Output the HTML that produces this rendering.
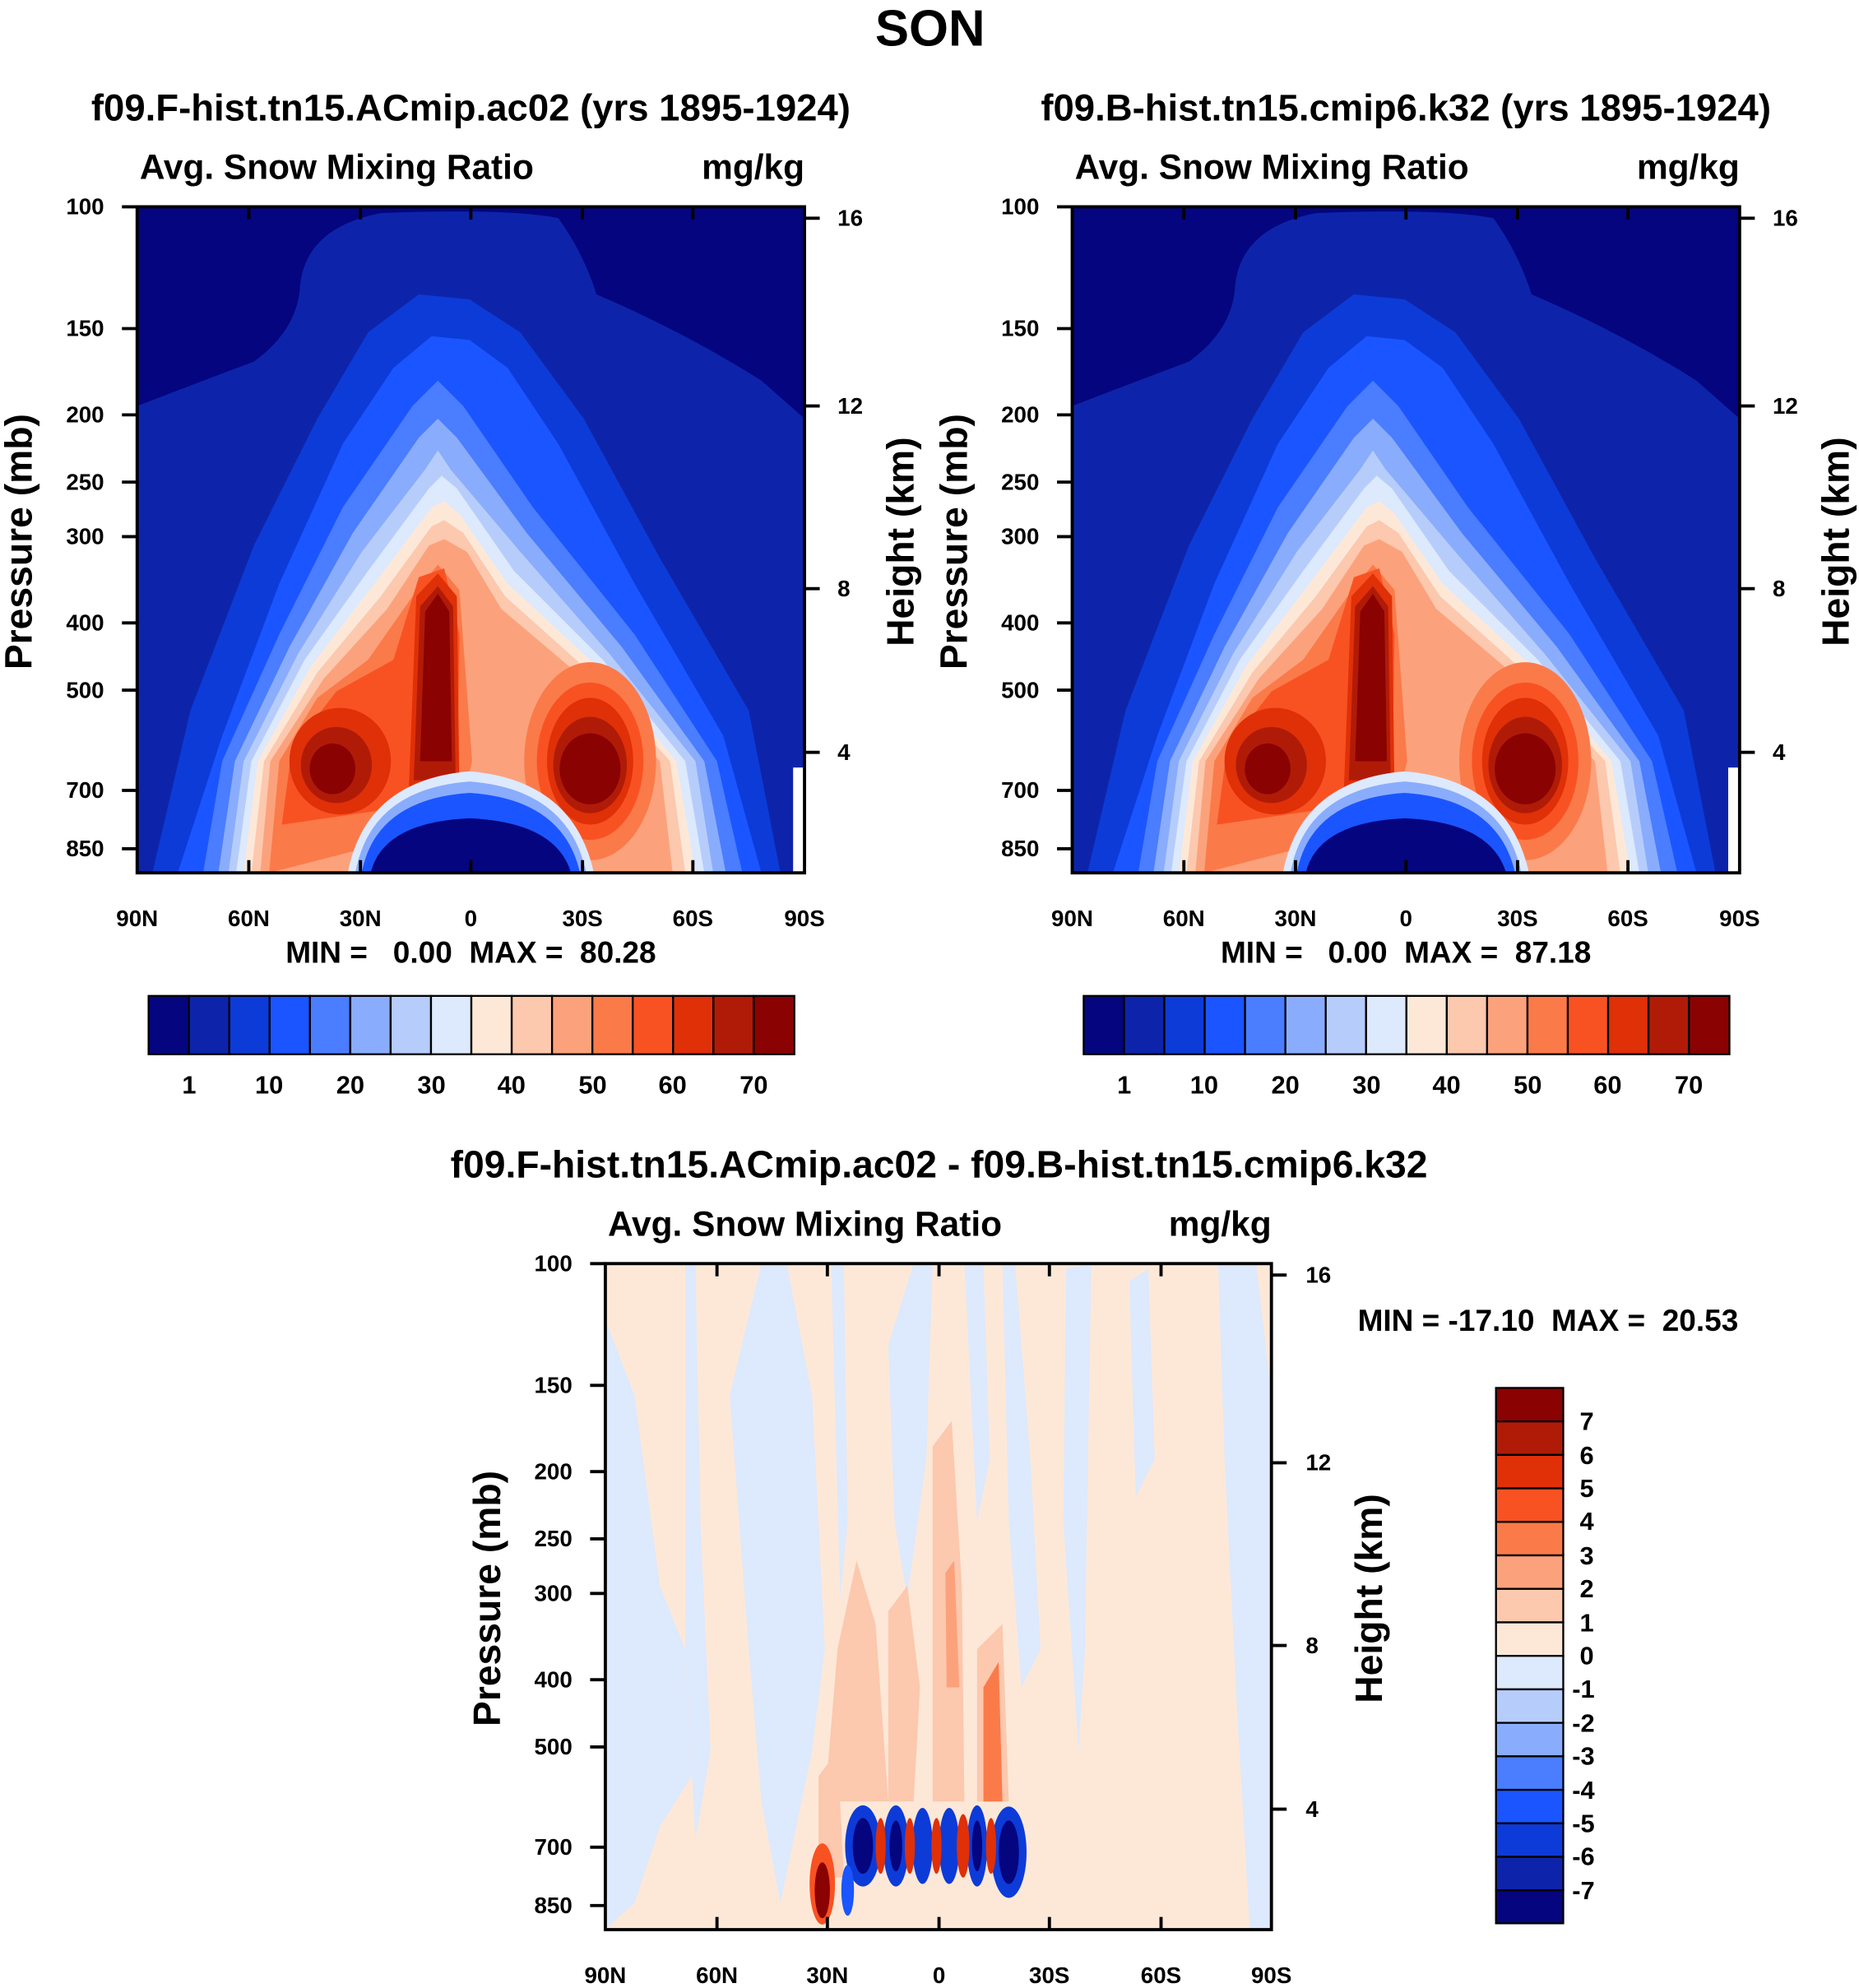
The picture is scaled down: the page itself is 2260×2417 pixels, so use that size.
<!DOCTYPE html>
<html><head><meta charset="utf-8"><style>
html,body{margin:0;padding:0;background:#fff}
svg{display:block}
text{font-family:"Liberation Sans",sans-serif;font-weight:bold;fill:#000}
</style></head><body>
<svg width="2260" height="2417" viewBox="0 0 1465 1567" xmlns="http://www.w3.org/2000/svg">
<defs>
<clipPath id="cp"><rect x="108" y="163" width="526" height="525"/></clipPath>
<g id="field">
<rect x="108" y="163" width="526" height="525" fill="#05057f"/>
<path fill="#0d24aa" d="M108,320 Q160,300 200,285 Q232,262 236,230 Q238,180 300,168 Q400,164 440,172 Q460,200 470,232 Q540,262 600,300 L634,330 L634,688 L108,688Z"/>
<polygon fill="#0d3bd8" points="120,688 150,560 200,430 250,330 290,262 330,232 370,236 410,262 460,330 520,440 590,560 615,688"/>
<polygon fill="#1a55ff" points="140,688 175,580 220,460 270,350 310,290 340,265 370,268 400,290 440,350 500,460 570,580 600,688"/>
<polygon fill="#4a7dff" points="160,688 175,600 220,500 270,400 325,320 345,300 365,320 420,400 500,500 565,600 585,688"/>
<polygon fill="#8aacfc" points="172,688 185,600 228,510 278,420 330,345 345,330 360,345 415,420 490,510 555,600 572,688"/>
<polygon fill="#b6cdfc" points="180,688 192,600 235,515 285,435 335,370 345,355 355,370 410,435 480,515 548,600 562,688"/>
<polygon fill="#dde9fc" points="186,688 198,600 240,520 290,450 338,385 348,375 360,385 405,450 475,520 540,600 555,688"/>
<polygon fill="#fde8d8" points="192,688 203,600 245,525 295,460 340,400 350,395 362,405 400,460 470,525 533,600 548,688"/>
<polygon fill="#fcc8ae" points="198,688 208,600 250,530 300,470 340,415 350,410 365,420 398,470 465,530 528,600 540,688"/>
<polygon fill="#fba27c" points="205,688 213,600 255,535 305,480 338,430 350,425 368,435 395,480 460,535 520,600 530,688"/>
<polygon fill="#fb7a4a" points="212,688 220,600 250,550 290,520 325,470 345,445 362,465 372,600 360,650"/>
<ellipse fill="#fb7a4a" cx="465" cy="600" rx="52" ry="78"/>
<polygon fill="#f95222" points="222,650 230,590 265,545 310,520 330,455 350,448 362,500 360,630"/>
<ellipse fill="#f95222" cx="465" cy="600" rx="42" ry="62"/>
<ellipse fill="#df3008" cx="268" cy="600" rx="40" ry="42"/>
<polygon fill="#df3008" points="322,625 328,470 345,452 360,470 362,625"/>
<ellipse fill="#df3008" cx="465" cy="600" rx="34" ry="50"/>
<ellipse fill="#b01b08" cx="265" cy="603" rx="28" ry="30"/>
<polygon fill="#b01b08" points="326,615 331,478 345,462 357,478 359,615"/>
<ellipse fill="#b01b08" cx="465" cy="603" rx="29" ry="38"/>
<ellipse fill="#8a0202" cx="262" cy="606" rx="18" ry="20"/>
<polygon fill="#8a0202" points="331,600 335,482 345,468 354,482 356,600"/>
<ellipse fill="#8a0202" cx="465" cy="606" rx="24" ry="28"/>
<path fill="#dde9fc" d="M274,688 Q288,615 370,608 Q452,615 468,688Z"/>
<path fill="#8aacfc" d="M280,688 Q292,622 370,616 Q448,622 462,688Z"/>
<path fill="#1a55ff" d="M285,688 Q296,630 370,625 Q444,630 457,688Z"/>
<path fill="#05057f" d="M292,688 Q302,648 370,645 Q438,648 450,688Z"/>
<rect x="625" y="605" width="9" height="83" fill="#fff"/>
</g>
</defs>

<text x="733" y="36" font-size="40" text-anchor="middle">SON</text>

<text x="371" y="95" font-size="29.5" text-anchor="middle">f09.F-hist.tn15.ACmip.ac02 (yrs 1895-1924)</text>
<text x="110" y="141" font-size="27.5">Avg. Snow Mixing Ratio</text>
<text x="634" y="141" font-size="27.5" text-anchor="end">mg/kg</text>
<g clip-path="url(#cp)"><use href="#field"/></g>
<text x="1108" y="95" font-size="29.5" text-anchor="middle">f09.B-hist.tn15.cmip6.k32 (yrs 1895-1924)</text>
<text x="847" y="141" font-size="27.5">Avg. Snow Mixing Ratio</text>
<text x="1371" y="141" font-size="27.5" text-anchor="end">mg/kg</text>
<g transform="translate(737,0)"><g clip-path="url(#cp)"><use href="#field"/></g></g>

<g id="axes" fill="none" stroke="#000" stroke-width="2.5">
<rect x="108" y="163" width="526" height="525"/>
<path d="M108,163h-12M108,259h-12M108,327h-12M108,380h-12M108,423h-12M108,491h-12M108,544h-12M108,623h-12M108,669h-12
M634,172h12M634,320h12M634,464h12M634,593h12
M196,163v10M284,163v10M371,163v10M459,163v10M546,163v10
M196,688v-10M284,688v-10M371,688v-10M459,688v-10M546,688v-10"/>
</g>
<use href="#axes" transform="translate(737,0)"/>
<g id="labs" font-size="18">
<text x="82" y="169" text-anchor="end">100</text>
<text x="82" y="265" text-anchor="end">150</text>
<text x="82" y="333" text-anchor="end">200</text>
<text x="82" y="386" text-anchor="end">250</text>
<text x="82" y="429" text-anchor="end">300</text>
<text x="82" y="497" text-anchor="end">400</text>
<text x="82" y="550" text-anchor="end">500</text>
<text x="82" y="629" text-anchor="end">700</text>
<text x="82" y="675" text-anchor="end">850</text>
<text x="660" y="178">16</text>
<text x="660" y="326">12</text>
<text x="660" y="470">8</text>
<text x="660" y="599">4</text>
<text x="108" y="730" text-anchor="middle">90N</text>
<text x="196" y="730" text-anchor="middle">60N</text>
<text x="284" y="730" text-anchor="middle">30N</text>
<text x="371" y="730" text-anchor="middle">0</text>
<text x="459" y="730" text-anchor="middle">30S</text>
<text x="546" y="730" text-anchor="middle">60S</text>
<text x="634" y="730" text-anchor="middle">90S</text>
<text transform="translate(25,427) rotate(-90)" font-size="30" text-anchor="middle">Pressure (mb)</text>
<text transform="translate(720,427) rotate(-90)" font-size="30" text-anchor="middle">Height (km)</text>
</g>
<use href="#labs" transform="translate(737,0)"/>
<text x="371" y="759" font-size="24" text-anchor="middle" xml:space="preserve">MIN =   0.00  MAX =  80.28</text>
<text x="1108" y="759" font-size="24" text-anchor="middle" xml:space="preserve">MIN =   0.00  MAX =  87.18</text>

<g id="hcb" stroke="#000" stroke-width="1.5">
<rect x="117" y="785" width="31.8" height="46" fill="#05057f"/>
<rect x="148.8" y="785" width="31.8" height="46" fill="#0d24aa"/>
<rect x="180.6" y="785" width="31.8" height="46" fill="#0d3bd8"/>
<rect x="212.4" y="785" width="31.8" height="46" fill="#1a55ff"/>
<rect x="244.2" y="785" width="31.8" height="46" fill="#4a7dff"/>
<rect x="276" y="785" width="31.8" height="46" fill="#8aacfc"/>
<rect x="307.8" y="785" width="31.8" height="46" fill="#b6cdfc"/>
<rect x="339.6" y="785" width="31.8" height="46" fill="#dde9fc"/>
<rect x="371.4" y="785" width="31.8" height="46" fill="#fde8d8"/>
<rect x="403.2" y="785" width="31.8" height="46" fill="#fcc8ae"/>
<rect x="435" y="785" width="31.8" height="46" fill="#fba27c"/>
<rect x="466.8" y="785" width="31.8" height="46" fill="#fb7a4a"/>
<rect x="498.6" y="785" width="31.8" height="46" fill="#f95222"/>
<rect x="530.4" y="785" width="31.8" height="46" fill="#df3008"/>
<rect x="562.2" y="785" width="31.8" height="46" fill="#b01b08"/>
<rect x="594" y="785" width="32" height="46" fill="#8a0202"/>
</g>
<g id="hcbl" font-size="20" text-anchor="middle">
<text x="149" y="862">1</text><text x="212" y="862">10</text><text x="276" y="862">20</text><text x="340" y="862">30</text>
<text x="403" y="862">40</text><text x="467" y="862">50</text><text x="530" y="862">60</text><text x="594" y="862">70</text>
</g>
<use href="#hcb" transform="translate(737,0)"/>
<use href="#hcbl" transform="translate(737,0)"/>

<text x="740" y="928" font-size="30" text-anchor="middle">f09.F-hist.tn15.ACmip.ac02 - f09.B-hist.tn15.cmip6.k32</text>
<text x="479" y="974" font-size="27.5">Avg. Snow Mixing Ratio</text>
<text x="1002" y="974" font-size="27.5" text-anchor="end">mg/kg</text>
<clipPath id="cb"><rect x="477" y="996" width="525" height="525"/></clipPath>
<g clip-path="url(#cb)">
<rect x="477" y="996" width="525" height="525" fill="#fde8d8"/>
<g fill="#dde9fc">
<polygon points="477,1040 500,1100 520,1250 540,1300 545,1400 520,1440 500,1500 477,1521"/>
<polygon points="540,996 548,996 552,1200 560,1380 548,1450 540,1300"/>
<polygon points="575,1100 600,996 620,996 640,1100 650,1300 640,1380 615,1500 600,1420 590,1300"/>
<polygon points="655,996 665,996 668,1200 662,1260"/>
<polygon points="700,1060 720,996 735,996 730,1150 715,1260 705,1200"/>
<polygon points="760,996 775,996 780,1150 770,1200"/>
<polygon points="790,996 800,996 812,1150 820,1300 805,1330 795,1200"/>
<polygon points="840,1000 860,996 855,1300 850,1380 838,1200"/>
<polygon points="890,1010 905,1000 910,1150 895,1180"/>
<polygon points="960,996 990,996 1002,1100 1002,1521 985,1521 975,1350 965,1150"/>
</g>
<g fill="#fcc8ae">
<polygon points="660,1300 675,1230 690,1280 700,1420 650,1420"/>
<polygon points="700,1270 715,1250 725,1330 720,1420 700,1420"/>
<polygon points="735,1140 750,1120 758,1250 760,1420 735,1420"/>
<polygon points="770,1300 790,1280 795,1420 770,1420"/>
<polygon points="645,1400 660,1380 665,1480 645,1480"/>
</g>
<polygon fill="#fb7a4a" points="775,1330 787,1310 790,1420 775,1420"/>
<polygon fill="#fba27c" points="745,1240 752,1230 756,1330 746,1330"/>
<g fill="#0d3bd8">
<ellipse cx="680" cy="1455" rx="14" ry="32"/><ellipse cx="706" cy="1455" rx="10" ry="32"/>
<ellipse cx="727" cy="1455" rx="8" ry="30"/><ellipse cx="748" cy="1455" rx="8" ry="30"/>
<ellipse cx="770" cy="1455" rx="8" ry="32"/><ellipse cx="795" cy="1460" rx="14" ry="36"/>
</g>
<g fill="#05057f">
<ellipse cx="680" cy="1455" rx="8" ry="22"/><ellipse cx="706" cy="1455" rx="5" ry="20"/>
<ellipse cx="795" cy="1460" rx="8" ry="25"/><ellipse cx="770" cy="1455" rx="4" ry="20"/>
</g>
<g fill="#df3008">
<ellipse cx="694" cy="1455" rx="4" ry="22"/><ellipse cx="717" cy="1455" rx="4" ry="22"/>
<ellipse cx="738" cy="1455" rx="4" ry="22"/><ellipse cx="759" cy="1455" rx="5" ry="25"/>
<ellipse cx="781" cy="1455" rx="4" ry="22"/>
</g>
<ellipse cx="648" cy="1485" rx="10" ry="32" fill="#f95222"/>
<ellipse cx="648" cy="1490" rx="6" ry="22" fill="#8a0202"/>
<ellipse cx="668" cy="1490" rx="5" ry="20" fill="#1a55ff"/>
</g>
<g fill="none" stroke="#000" stroke-width="2.5">
<rect x="477" y="996" width="525" height="525"/>
<path d="M477,996h-12M477,1092h-12M477,1160h-12M477,1213h-12M477,1256h-12M477,1324h-12M477,1377h-12M477,1456h-12M477,1502h-12
M1002,1005h12M1002,1153h12M1002,1297h12M1002,1426h12
M565,996v10M652,996v10M740,996v10M827,996v10M915,996v10
M565,1521v-10M652,1521v-10M740,1521v-10M827,1521v-10M915,1521v-10"/>
</g>
<g font-size="18">
<text x="451" y="1002" text-anchor="end">100</text>
<text x="451" y="1098" text-anchor="end">150</text>
<text x="451" y="1166" text-anchor="end">200</text>
<text x="451" y="1219" text-anchor="end">250</text>
<text x="451" y="1262" text-anchor="end">300</text>
<text x="451" y="1330" text-anchor="end">400</text>
<text x="451" y="1383" text-anchor="end">500</text>
<text x="451" y="1462" text-anchor="end">700</text>
<text x="451" y="1508" text-anchor="end">850</text>
<text x="1029" y="1011">16</text>
<text x="1029" y="1159">12</text>
<text x="1029" y="1303">8</text>
<text x="1029" y="1432">4</text>
<text x="477" y="1563" text-anchor="middle">90N</text>
<text x="565" y="1563" text-anchor="middle">60N</text>
<text x="652" y="1563" text-anchor="middle">30N</text>
<text x="740" y="1563" text-anchor="middle">0</text>
<text x="827" y="1563" text-anchor="middle">30S</text>
<text x="915" y="1563" text-anchor="middle">60S</text>
<text x="1002" y="1563" text-anchor="middle">90S</text>
<text transform="translate(394,1260) rotate(-90)" font-size="30" text-anchor="middle">Pressure (mb)</text>
<text transform="translate(1089,1260) rotate(-90)" font-size="30" text-anchor="middle">Height (km)</text>
</g>
<text x="1070" y="1049" font-size="24" xml:space="preserve">MIN = -17.10  MAX =  20.53</text>

<g stroke="#000" stroke-width="1.5">
<rect x="1179" y="1094" width="53" height="26.4" fill="#8a0202"/>
<rect x="1179" y="1120.4" width="53" height="26.4" fill="#b01b08"/>
<rect x="1179" y="1146.8" width="53" height="26.4" fill="#df3008"/>
<rect x="1179" y="1173.2" width="53" height="26.4" fill="#f95222"/>
<rect x="1179" y="1199.6" width="53" height="26.4" fill="#fb7a4a"/>
<rect x="1179" y="1226" width="53" height="26.4" fill="#fba27c"/>
<rect x="1179" y="1252.4" width="53" height="26.4" fill="#fcc8ae"/>
<rect x="1179" y="1278.8" width="53" height="26.4" fill="#fde8d8"/>
<rect x="1179" y="1305.2" width="53" height="26.4" fill="#dde9fc"/>
<rect x="1179" y="1331.6" width="53" height="26.4" fill="#b6cdfc"/>
<rect x="1179" y="1358" width="53" height="26.4" fill="#8aacfc"/>
<rect x="1179" y="1384.4" width="53" height="26.4" fill="#4a7dff"/>
<rect x="1179" y="1410.8" width="53" height="26.4" fill="#1a55ff"/>
<rect x="1179" y="1437.2" width="53" height="26.4" fill="#0d3bd8"/>
<rect x="1179" y="1463.6" width="53" height="26.4" fill="#0d24aa"/>
<rect x="1179" y="1490" width="53" height="26" fill="#05057f"/>
</g>
<g font-size="20">
<text x="1245" y="1127">7</text><text x="1245" y="1154">6</text><text x="1245" y="1180">5</text><text x="1245" y="1206">4</text>
<text x="1245" y="1233">3</text><text x="1245" y="1259">2</text><text x="1245" y="1286">1</text><text x="1245" y="1312">0</text>
<text x="1239" y="1338">-1</text><text x="1239" y="1365">-2</text><text x="1239" y="1391">-3</text><text x="1239" y="1418">-4</text>
<text x="1239" y="1444">-5</text><text x="1239" y="1470">-6</text><text x="1239" y="1497">-7</text>
</g>
</svg>
</body></html>
